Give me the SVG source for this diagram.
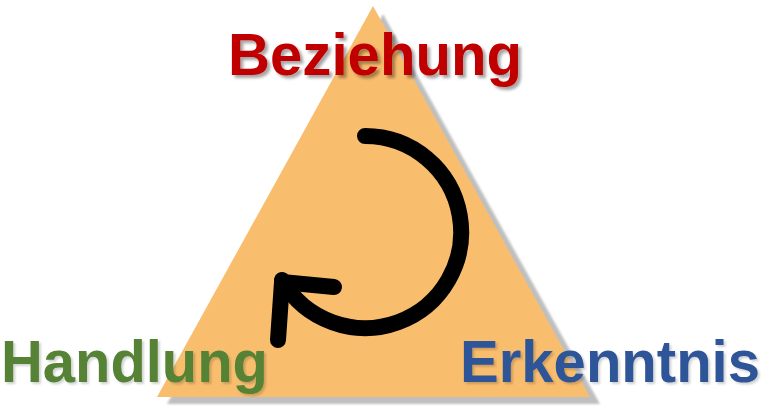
<svg xmlns="http://www.w3.org/2000/svg" width="771" height="418" viewBox="0 0 771 418">
<defs>
<filter id="tshadow" x="-10%" y="-20%" width="120%" height="150%">
<feGaussianBlur in="SourceAlpha" stdDeviation="1.5" result="b"/>
<feOffset dx="2.5" dy="3" result="o"/>
<feFlood flood-color="#000" flood-opacity="0.35"/>
<feComposite in2="o" operator="in" result="s"/>
<feMerge><feMergeNode in="s"/><feMergeNode in="SourceGraphic"/></feMerge>
</filter>
<filter id="tshadow2" x="-10%" y="-20%" width="120%" height="150%">
<feGaussianBlur in="SourceAlpha" stdDeviation="1.2" result="b"/>
<feOffset dx="1.5" dy="2" result="o"/>
<feFlood flood-color="#000" flood-opacity="0.18"/>
<feComposite in2="o" operator="in" result="s"/>
<feMerge><feMergeNode in="s"/><feMergeNode in="SourceGraphic"/></feMerge>
</filter>
<filter id="blur1"><feGaussianBlur stdDeviation="0.8"/></filter>
</defs>
<style>
.lbl{font-family:"Liberation Sans",Arial,sans-serif;font-weight:bold;font-size:60px}
.arrow{fill:none;stroke:#000;stroke-width:16;stroke-linecap:round;stroke-linejoin:round}
</style>
<g id="triangle">
<polygon points="383,14 167,404 600,404" fill="#BFBFBF" filter="url(#blur1)"/>
<polygon points="373,6 157,397 590,397" fill="#F9BD6E"/>
</g>
<g id="connectors">
<path class="arrow" d="M 365 136 A 96 96 0 1 1 282 280"/>
<path class="arrow" d="M 334 287 L 282 282 L 278 340"/>
</g>
<g id="node-beziehung">
<text class="lbl" x="228" y="75" fill="#C00000" textLength="294" lengthAdjust="spacingAndGlyphs" filter="url(#tshadow)">Beziehung</text>
</g>
<g id="node-handlung">
<text class="lbl" x="1" y="382" fill="#548235" textLength="267" lengthAdjust="spacingAndGlyphs" filter="url(#tshadow2)">Handlung</text>
</g>
<g id="node-erkenntnis">
<text class="lbl" x="460" y="382" fill="#2F5597" textLength="300" lengthAdjust="spacingAndGlyphs" filter="url(#tshadow2)">Erkenntnis</text>
</g>
</svg>
